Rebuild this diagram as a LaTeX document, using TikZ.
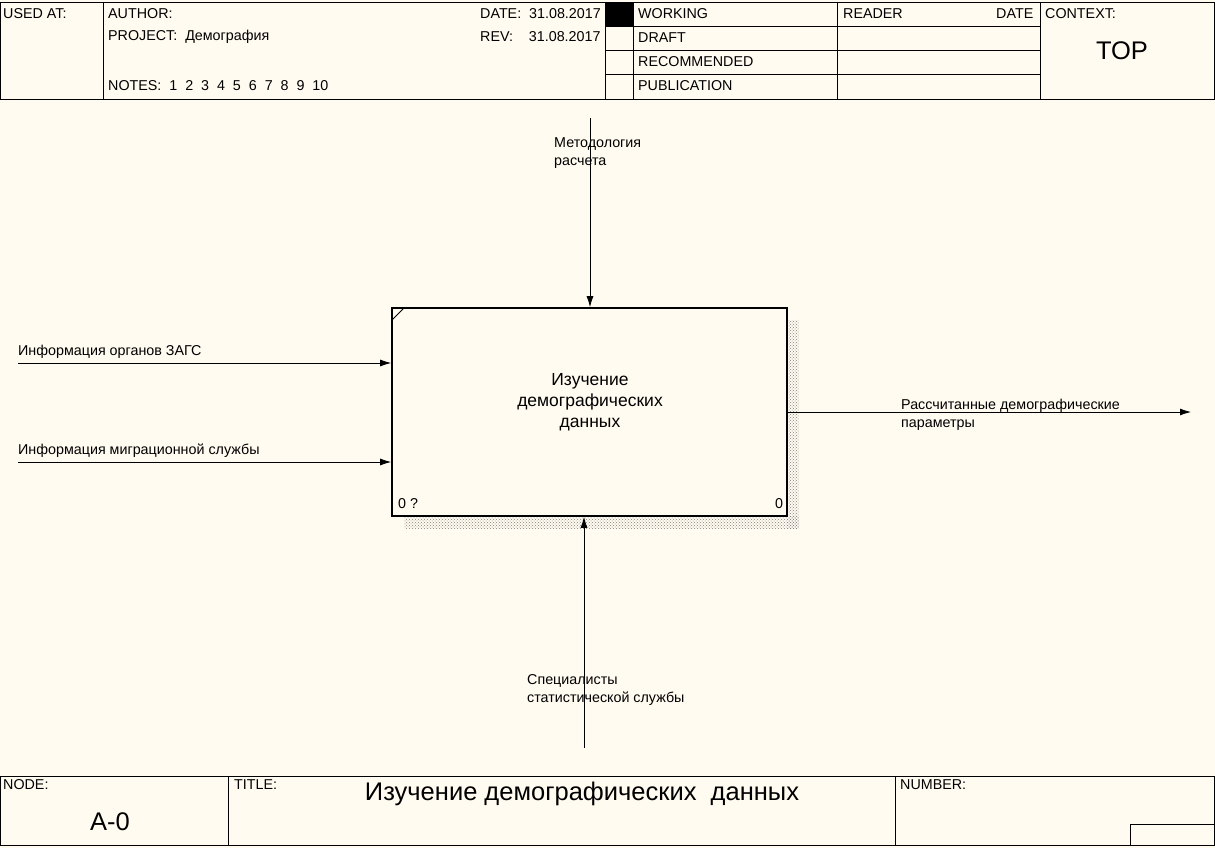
\documentclass[tikz,border=0pt]{standalone}
\usepackage{fontspec}
\setmainfont{Liberation Sans}
\usetikzlibrary{patterns,arrows.meta}
\definecolor{bg}{HTML}{FFFBF0}
\tikzset{
 lbl/.style={anchor=west,inner sep=0pt,font=\fontsize{14.3}{18}\selectfont,align=left},
 ln/.style={line width=0.8pt},
 arr/.style={line width=0.8pt,-{Latex[length=11pt,width=7pt]}},
 big/.style={inner sep=0pt,font=\fontsize{25.5}{30}\selectfont},
}
\begin{document}
\begin{tikzpicture}[x=1pt,y=-1pt]
\fill[bg] (0,0) rectangle (1215,848);
\useasboundingbox (0,0) rectangle (1215,848);
% header
\draw[ln] (0.5,2) rectangle (1214.5,99);
\foreach \x in {103,605,633,837,1040} \draw[ln] (\x,2) -- (\x,99);
\foreach \y in {26,50,74} \draw[ln] (605,\y) -- (1040,\y);
\fill (605,2) rectangle (633,26);
\node[lbl] (ua) at (3,14) {USED AT:};
\node[lbl] (au) at (108,14) {AUTHOR:};
\node[lbl] (pr) at (108,37) {PROJECT:\ \ Демография};
\node[lbl] (no) at (108,86) {NOTES:\ \ 1\ \ 2\ \ 3\ \ 4\ \ 5\ \ 6\ \ 7\ \ 8\ \ 9\ \ 10};
\node[lbl] (da) at (480,14) {DATE:\ \ 31.08.2017};
\node[lbl] (re) at (480,37) {REV:\ \ \ \ 31.08.2017};
\node[lbl] (wo) at (638,14) {WORKING};
\node[lbl] (dr) at (638,38) {DRAFT};
\node[lbl] (rc) at (638,62) {RECOMMENDED};
\node[lbl] (pu) at (638,86) {PUBLICATION};
\node[lbl] (rd) at (843,14) {READER};
\node[lbl] (dt) at (996,14) {DATE};
\node[lbl] (cx) at (1045,14) {CONTEXT:};
\node[big] (top) at (1122,51) {TOP};
% box shadow
\fill[pattern=crosshatch dots,pattern color=gray] (787,320) rectangle (799,528);
\fill[pattern=crosshatch dots,pattern color=gray] (404,516) rectangle (799,528);
\node[draw,line width=1.6pt,fill=bg,minimum width=395pt,minimum height=208pt,inner sep=0pt] (box) at (589.5,412) {};
\draw[ln] (392,320) -- (404,308);
\node[align=center,inner sep=0pt,font=\fontsize{17.5}{21}\selectfont] (bt) at (590,402) {Изучение\\демографических\\данных};
\node[lbl] (n1) at (398,504) {0 ?};
\node[lbl] (n2) at (775,504) {0};
% arrows
\coordinate (ct) at (590,118);
\draw[arr] (ct) -- (box.north -| ct);
\node[lbl] (cl) at (554,153) {Методология\\расчета};
\coordinate (i1) at (18,363);
\draw[arr] (i1) -- (box.west |- i1);
\node[lbl] (il1) at (18,352) {Информация органов ЗАГС};
\coordinate (i2) at (18,462);
\draw[arr] (i2) -- (box.west |- i2);
\node[lbl] (il2) at (18,451) {Информация миграционной службы};
\coordinate (o1) at (1191,412);
\draw[arr] (box.east |- o1) -- (o1);
\node[lbl] (ol) at (901,415) {Рассчитанные демографические\\параметры};
\coordinate (m1) at (584,748);
\draw[arr] (m1) -- (box.south -| m1);
\node[lbl] (ml) at (527,690) {Специалисты\\статистической службы};
% footer
\draw[ln] (0.5,776) rectangle (1214.5,845);
\draw[ln] (228,776) -- (228,845);
\draw[ln] (895,776) -- (895,845);
\draw[ln] (1130,845) -- (1130,824) -- (1214.5,824);
\node[lbl] (nd) at (3,785) {NODE:};
\node[big] (a0) at (110,822) {A-0};
\node[lbl] (ti) at (234,785) {TITLE:};
\node[big] (tt) at (582,794) {Изучение демографических\ \ данных};
\node[lbl] (nu) at (900,785) {NUMBER:};
\end{tikzpicture}
\end{document}
